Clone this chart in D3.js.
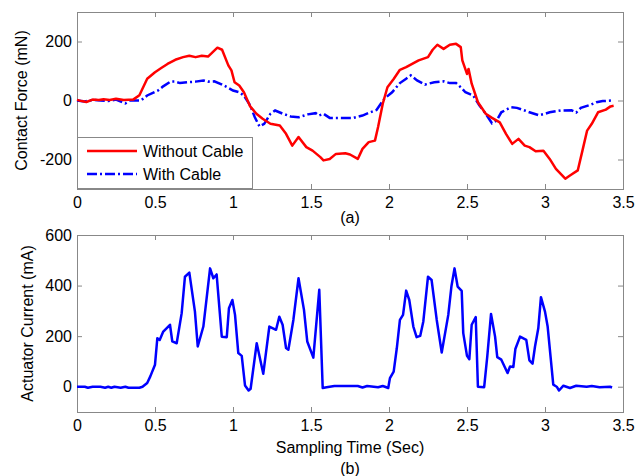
<!DOCTYPE html>
<html>
<head>
<meta charset="utf-8">
<script src="https://cdn.jsdelivr.net/npm/d3@7"></script>
<style>
  body { margin: 0; background: #fff; }
  svg { display: block; font-family: 'Liberation Sans', Arial, sans-serif; }
  .tick text { font-size: 16px; fill: #000; }
  .tick line { stroke: #888; }
</style>
</head>
<body>
<script>
// (a) contact force, mN
const withoutCableTime = [0, 0.03, 0.06, 0.10, 0.14, 0.17, 0.21, 0.25, 0.30, 0.36,
  0.40, 0.45, 0.50, 0.54, 0.58, 0.63, 0.68, 0.72, 0.76, 0.80,
  0.84, 0.87, 0.90, 0.93, 0.97, 0.99, 1.01, 1.04, 1.07, 1.11,
  1.15, 1.19, 1.24, 1.30, 1.34, 1.38, 1.42, 1.47, 1.51, 1.56,
  1.58, 1.62, 1.66, 1.72, 1.75, 1.80, 1.83, 1.87, 1.91, 1.93,
  1.96, 1.99, 2.03, 2.07, 2.11, 2.19, 2.25, 2.28, 2.31, 2.35,
  2.39, 2.43, 2.46, 2.47, 2.50, 2.51, 2.53, 2.57, 2.62, 2.66,
  2.71, 2.75, 2.79, 2.83, 2.87, 2.90, 2.94, 2.99, 3.03, 3.07,
  3.11, 3.13, 3.16, 3.21, 3.24, 3.27, 3.30, 3.34, 3.39, 3.42,
  3.44];
const withoutCableForce = [2, -2, -5, 3, 2, 4, 2, 6, 2, 3,
  18, 74, 96, 110, 124, 138, 147, 152, 147, 152,
  149, 164, 179, 172, 119, 102, 62, 51, 28, -20,
  -45, -62, -79, -85, -113, -153, -124, -158, -170, -192,
  -203, -198, -181, -179, -183, -198, -164, -141, -136, -90,
  -11, 45, 73, 104, 113, 136, 147, 172, 189, 175,
  189, 192, 181, 136, 90, 107, 57, -6, -45, -59,
  -74, -113, -147, -130, -153, -158, -172, -170, -198, -232,
  -254, -265, -254, -237, -170, -102, -79, -40, -31, -20,
  -18];

const withCableTime = [0, 0.05, 0.10, 0.15, 0.20, 0.25, 0.31, 0.34, 0.41, 0.45,
  0.52, 0.55, 0.60, 0.63, 0.66, 0.71, 0.76, 0.81, 0.84, 0.88,
  0.93, 0.97, 1.00, 1.04, 1.07, 1.11, 1.14, 1.17, 1.20, 1.24,
  1.27, 1.32, 1.37, 1.42, 1.48, 1.53, 1.55, 1.58, 1.62, 1.69,
  1.77, 1.83, 1.88, 1.92, 1.97, 2.02, 2.07, 2.11, 2.14, 2.18,
  2.23, 2.29, 2.35, 2.39, 2.43, 2.46, 2.49, 2.54, 2.58, 2.62,
  2.66, 2.69, 2.72, 2.78, 2.82, 2.87, 2.90, 2.96, 3.00, 3.03,
  3.10, 3.17, 3.20, 3.23, 3.29, 3.33, 3.37, 3.43];
const withCableForce = [0, -3, 2, 0, -2, 3, -10, 0, 0, 17,
  34, 47, 64, 64, 59, 62, 64, 68, 64, 65,
  54, 43, 34, 28, 17, -17, -57, -88, -79, -45,
  -34, -45, -54, -57, -47, -43, -51, -45, -59, -59,
  -59, -51, -40, -32, 6, 28, 59, 74, 85, 68,
  54, 62, 65, 59, 59, 45, 28, 17, -17, -45,
  -77, -68, -40, -23, -25, -34, -40, -50, -45, -40,
  -34, -33, -41, -25, -15, -6, -2, 0];

// (b) actuator current, mA
const currentTime = [0, 0.05, 0.07, 0.10, 0.15, 0.18, 0.20, 0.22, 0.24, 0.28,
  0.31, 0.33, 0.40, 0.42, 0.45, 0.47, 0.50, 0.515, 0.53, 0.553,
  0.596, 0.611, 0.639, 0.671, 0.692, 0.72, 0.756, 0.774, 0.81, 0.853,
  0.874, 0.895, 0.928, 0.96, 0.974, 0.996, 1.013, 1.034, 1.056, 1.077,
  1.10, 1.113, 1.152, 1.194, 1.233, 1.276, 1.297, 1.318, 1.34, 1.355,
  1.387, 1.42, 1.455, 1.476, 1.515, 1.553, 1.575, 1.60, 1.65, 1.80,
  1.83, 1.86, 1.93, 1.96, 1.974, 1.995, 2.006, 2.03, 2.05, 2.07,
  2.09, 2.11, 2.13, 2.156, 2.177, 2.20, 2.22, 2.25, 2.273, 2.306,
  2.338, 2.38, 2.40, 2.42, 2.44, 2.466, 2.476, 2.50, 2.515, 2.53,
  2.556, 2.57, 2.61, 2.63, 2.654, 2.68, 2.694, 2.72, 2.76, 2.776,
  2.797, 2.81, 2.84, 2.88, 2.90, 2.92, 2.936, 2.957, 2.974, 3.00,
  3.017, 3.053, 3.075, 3.09, 3.118, 3.16, 3.20, 3.267, 3.30, 3.35,
  3.417, 3.43];
const currentValue = [0, 0, -4, 0, 0, -4, 0, -4, 0, -4,
  0, -4, -4, 0, 15, 41, 87, 192, 185, 218,
  245, 179, 172, 291, 435, 451, 297, 159, 238, 468,
  429, 444, 198, 196, 310, 343, 284, 133, 122, 5,
  -15, -8, 172, 51, 238, 225, 277, 245, 153, 146,
  264, 429, 304, 179, 115, 383, -5, -2, 3, 3,
  -3, 3, -2, 3, 0, -5, 34, 60, 152, 264,
  284, 380, 343, 238, 196, 201, 258, 435, 422, 264,
  135, 284, 396, 468, 396, 379, 212, 122, 109, 245,
  275, 0, -2, 120, 288, 198, 117, 107, 54, 80,
  78, 149, 198, 185, 104, 91, 159, 231, 354, 297,
  238, 8, 0, -15, 4, -5, 4, 0, 3, -2,
  0, -3];

const timeTicks = [0, 0.5, 1, 1.5, 2, 2.5, 3, 3.5];
const forceTicks = [-200, 0, 200];
const currentTicks = [0, 200, 400, 600];
const legendLabels = ['Without Cable', 'With Cable'];

const width = 644;
const height = 476;
const frameColor = '#888';

const svg = d3.select('body')
  .append('svg')
    .attr('width', width)
    .attr('height', height);

svg.append('rect')
  .attr('width', width)
  .attr('height', height)
  .attr('fill', '#fff');

const x = d3.scaleLinear().domain([0, 3.5]).range([77, 623]);

/**
 * Draws one boxed panel with inward ticks on all four sides.
 */
function drawPanel (y, yTicks, top, bottom) {
  const g = svg.append('g');

  g.append('rect')
    .attr('x', x.range()[0] + 0.5)
    .attr('y', top + 0.5)
    .attr('width', x.range()[1] - x.range()[0])
    .attr('height', bottom - top)
    .attr('fill', 'none')
    .attr('stroke', frameColor);

  const fmt = (d) => String(d);

  g.append('g')
    .attr('transform', 'translate(0,' + bottom + ')')
    .call(d3.axisBottom(x).tickValues(timeTicks).tickFormat(fmt)
      .tickSize(-5).tickSizeOuter(0).tickPadding(8))
    .call((s) => s.select('.domain').remove());

  g.append('g')
    .attr('transform', 'translate(0,' + top + ')')
    .call(d3.axisTop(x).tickValues(timeTicks).tickFormat('')
      .tickSize(-5).tickSizeOuter(0))
    .call((s) => s.select('.domain').remove());

  g.append('g')
    .attr('transform', 'translate(' + x.range()[0] + ',0)')
    .call(d3.axisLeft(y).tickValues(yTicks).tickFormat(fmt)
      .tickSize(-5).tickSizeOuter(0).tickPadding(5))
    .call((s) => s.select('.domain').remove());

  g.append('g')
    .attr('transform', 'translate(' + x.range()[1] + ',0)')
    .call(d3.axisRight(y).tickValues(yTicks).tickFormat('')
      .tickSize(-5).tickSizeOuter(0))
    .call((s) => s.select('.domain').remove());

  g.selectAll('.tick text').attr('font-size', 16).attr('fill', '#000');
  return g;
}

function addText (tx, ty, str, rotate) {
  const t = svg.append('text')
    .attr('font-size', 16)
    .attr('fill', '#000')
    .attr('text-anchor', 'middle')
    .text(str);
  if (rotate) {
    t.attr('transform', 'translate(' + tx + ',' + ty + ') rotate(-90)');
  } else {
    t.attr('x', tx).attr('y', ty);
  }
}

// ---- panel (a)
const yForce = d3.scaleLinear().domain([-300, 300]).range([189, 12]);
drawPanel(yForce, forceTicks, 12, 189);

const forceLine = (times, values) => d3.line()
  .x((d, i) => x(times[i]))
  .y((d) => yForce(d))(values);

svg.append('path')
  .attr('d', forceLine(withCableTime, withCableForce))
  .attr('fill', 'none')
  .attr('stroke', '#0000ff')
  .attr('stroke-width', 2.5)
  .attr('stroke-dasharray', '10,3,2,3');

svg.append('path')
  .attr('d', forceLine(withoutCableTime, withoutCableForce))
  .attr('fill', 'none')
  .attr('stroke', '#ff0000')
  .attr('stroke-width', 2.5)
  .attr('stroke-linejoin', 'round');

// legend
const legend = svg.append('g');
legend.append('rect')
  .attr('x', 77.5)
  .attr('y', 137.5)
  .attr('width', 175)
  .attr('height', 51)
  .attr('fill', '#fff')
  .attr('stroke', frameColor);

const legendStyles = [
  { color: '#ff0000', dash: null },
  { color: '#0000ff', dash: '10,3,2,3' }
];
legendLabels.forEach((label, i) => {
  const ly = 151 + i * 23;
  legend.append('line')
    .attr('x1', 87).attr('x2', 137)
    .attr('y1', ly).attr('y2', ly)
    .attr('stroke', legendStyles[i].color)
    .attr('stroke-width', 2.5)
    .attr('stroke-dasharray', legendStyles[i].dash);
  legend.append('text')
    .attr('x', 143)
    .attr('y', ly + 6)
    .attr('font-size', 16)
    .text(label);
});

addText(27, 100.5, 'Contact Force (mN)', true);
addText(350, 223, '(a)');

// ---- panel (b)
const yCurrent = d3.scaleLinear().domain([-100, 600]).range([412, 235]);
drawPanel(yCurrent, currentTicks, 235, 412);

svg.append('path')
  .attr('d', d3.line()
    .x((d, i) => x(currentTime[i]))
    .y((d) => yCurrent(d))(currentValue))
  .attr('fill', 'none')
  .attr('stroke', '#0000ff')
  .attr('stroke-width', 2.5)
  .attr('stroke-linejoin', 'round');

addText(33, 323.5, 'Actuator Current (mA)', true);
addText(350, 453, 'Sampling Time (Sec)');
addText(350, 474, '(b)');
</script>
</body>
</html>
